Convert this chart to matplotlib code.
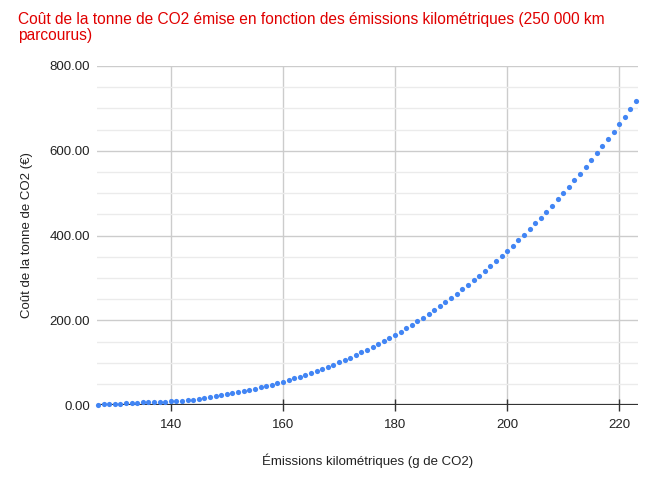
import matplotlib.pyplot as plt
from matplotlib.ticker import MultipleLocator, FuncFormatter

# émissions (g CO2/km) et coût de la tonne de CO2 (€)
emissions = list(range(127, 224))
cout_tonne = [
    0.00, 1.56, 2.33, 3.08, 3.82, 4.55, 5.11, 5.67, 6.22, 6.76,
    7.01, 7.54, 8.06, 8.86, 9.36, 10.14, 11.19, 12.50, 14.90, 17.81,
    20.14, 22.11, 24.11, 26.21, 28.45, 30.84, 33.36, 36.00, 38.81, 41.77,
    44.87, 48.13, 51.55, 55.13, 58.88, 62.81, 66.90, 71.17, 75.61, 80.27,
    85.08, 90.10, 95.29, 100.68, 106.27, 112.05, 118.03, 124.23, 130.63, 137.25,
    144.07, 151.10, 158.35, 165.82, 173.50, 181.41, 189.53, 197.89, 206.49, 215.29,
    224.34, 233.62, 243.13, 252.88, 262.87, 273.10, 283.56, 294.29, 305.25, 316.45,
    327.90, 339.60, 351.56, 363.76, 376.22, 388.93, 401.89, 415.12, 428.60, 442.35,
    456.35, 470.62, 485.15, 499.94, 515.00, 530.32, 545.92, 561.79, 577.92, 594.33,
    611.00, 627.96, 645.19, 662.67, 680.45, 698.50, 716.84,
]
x_ticks = [140, 160, 180, 200, 220]
y_ticks = [0, 200, 400, 600, 800]

plt.rcParams["font.family"] = ["Liberation Sans", "DejaVu Sans"]

fig = plt.figure(figsize=(6.5, 4.8), dpi=100)
ax = fig.add_axes([0.149, 0.156, 0.833, 0.7065])

ax.scatter(emissions, cout_tonne, s=14, color="#4285F4", linewidths=0, zorder=3, clip_on=False)

ax.set_xlim(126.8, 223.4)
ax.set_ylim(0, 800)
ax.set_xticks(x_ticks)
ax.set_yticks(y_ticks)
ax.yaxis.set_minor_locator(MultipleLocator(50))
ax.yaxis.set_major_formatter(FuncFormatter(lambda v, p: f"{v:.2f}"))

ax.grid(True, which="major", color="#cccccc", linewidth=1, zorder=0)
ax.grid(True, which="minor", axis="y", color="#ebebeb", linewidth=1, zorder=0)
ax.axhline(0, color="#333333", linewidth=1.6, zorder=2)

for s in ax.spines.values():
    s.set_visible(False)

ax.tick_params(axis="y", which="both", length=0, pad=5, labelsize=9.5, labelcolor="#222222")
ax.tick_params(axis="x", which="major", direction="inout", length=8, width=1,
               color="#333333", pad=6, labelsize=9.5, labelcolor="#222222")

ax.set_xlabel("Émissions kilométriques (g de CO2)", fontsize=9.5, color="#222222", labelpad=16)
ax.set_ylabel("Coût de la tonne de CO2 (€)", fontsize=9.5, color="#222222", labelpad=12)

fig.text(0.027, 0.975,
         "Coût de la tonne de CO2 émise en fonction des émissions kilométriques (250 000 km\nparcourus)",
         color="#e00000", fontsize=11.2, ha="left", va="top", linespacing=1.08)

fig.savefig("out.png", dpi=100)
